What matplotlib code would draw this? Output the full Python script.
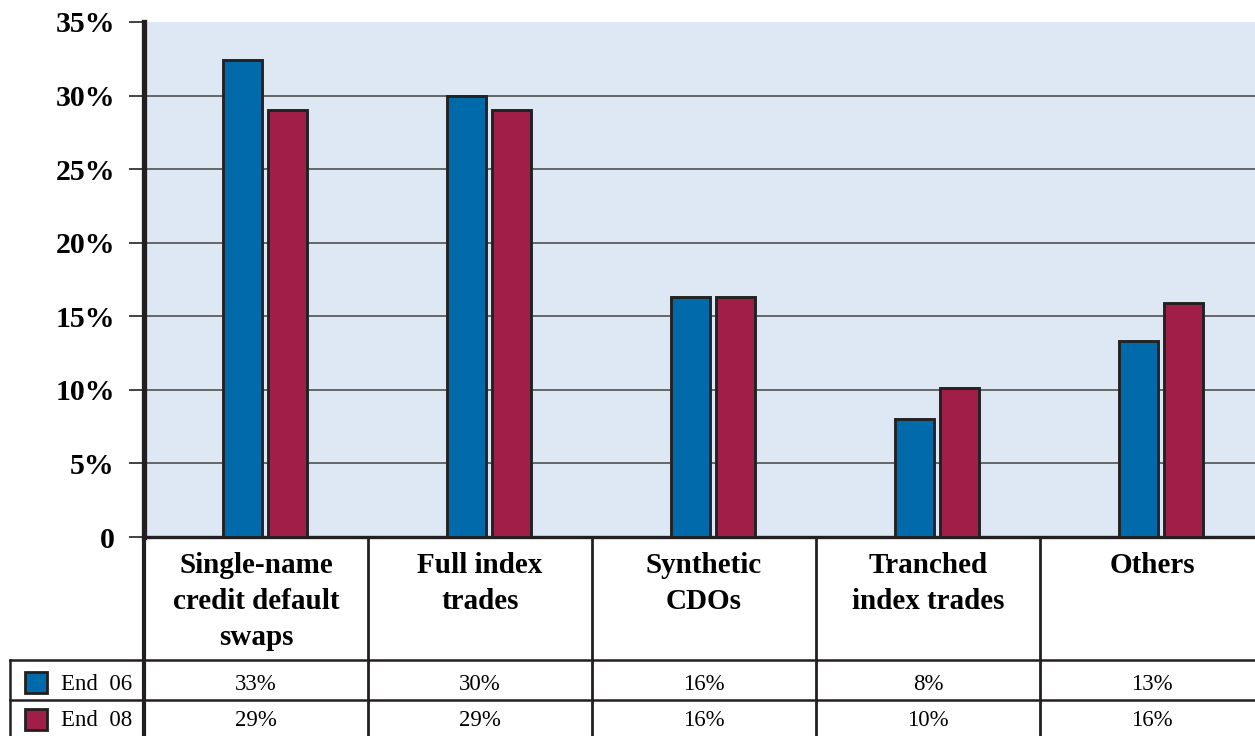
import matplotlib
matplotlib.use("Agg")
import matplotlib.pyplot as plt
import matplotlib.transforms as mtransforms
from matplotlib.patches import Rectangle
import numpy as np

categories = ["Single-name\ncredit default\nswaps", "Full index\ntrades",
              "Synthetic\nCDOs", "Tranched\nindex trades", "Others"]
series_names = ["End  06", "End  08"]
end06 = [32.4, 30.0, 16.3, 8.0, 13.3]
end08 = [29.0, 29.0, 16.3, 10.1, 15.9]
end06_labels = ["33%", "30%", "16%", "8%", "13%"]
end08_labels = ["29%", "29%", "16%", "10%", "16%"]
yticks = [0, 5, 10, 15, 20, 25, 30, 35]
ytick_labels = ["0", "5%", "10%", "15%", "20%", "25%", "30%", "35%"]

blue = "#006aaa"
red = "#a01e48"
bg = "#dde8f4"
edge = "#222222"
serif = ["Liberation Serif", "DejaVu Serif"]

W, H = 1255, 736
fig = plt.figure(figsize=(W / 100, H / 100), dpi=100)
left, right, top, bottom = 144, 1255, 22, 537
colw = 224.0
ax = fig.add_axes([left / W, (H - bottom) / H, (right - left) / W, (bottom - top) / H])
ax.set_facecolor(bg)
ax.set_xlim(0, (right - left) / colw)
ax.set_ylim(0, 35)

x = np.arange(len(categories)) + 0.54
bw = 0.174
off = 0.1
ax.bar(x - off, end06, width=bw, color=blue, edgecolor=edge, linewidth=2.1, zorder=3)
ax.bar(x + off, end08, width=bw, color=red, edgecolor=edge, linewidth=2.1, zorder=3)

ax.set_yticks(yticks)
ax.set_yticklabels(ytick_labels, fontfamily=serif, fontweight="bold", fontsize=21.5)
ax.set_xticks([])
for yv in yticks[1:-1]:
    ax.axhline(yv, color="#444444", linewidth=1.1, zorder=1)
ax.tick_params(axis="y", length=11, width=1.2, pad=10, color="#222222")
for s in ["top", "right"]:
    ax.spines[s].set_visible(False)
ax.spines["left"].set_linewidth(3.8)
ax.spines["left"].set_color("#231f20")
ax.spines["bottom"].set_linewidth(2.4)
ax.spines["bottom"].set_color("#231f20")

# table beneath the axes
trans = mtransforms.blended_transform_factory(ax.transData, ax.transAxes)
def ypx(p):
    return (bottom - p) / (bottom - top)
def xpx(p):
    return (p - left) / colw

y_row1, y_row2, y_end = ypx(660), ypx(700), ypx(736)
x_leg = xpx(10)

lc = "#231f20"
for i in range(1, 5):
    ax.plot([i, i], [0, y_end], transform=trans, color=lc, lw=2.0, clip_on=False)
ax.plot([0, 0], [0, y_end], transform=trans, color=lc, lw=3.0, clip_on=False)
for yy in (y_row1, y_row2):
    ax.plot([x_leg, 5], [yy, yy], transform=trans, color=lc, lw=1.8, clip_on=False)
ax.plot([x_leg, x_leg], [y_row1, y_end], transform=trans, color=lc, lw=1.8, clip_on=False)

for i, c in enumerate(categories):
    ax.text(i + 0.5, ypx(552), c, transform=trans, ha="center", va="top",
            fontfamily=serif, fontweight="bold", fontsize=21, linespacing=1.42)

row_y = [ypx(685), ypx(721)]
for labels, yy in zip([end06_labels, end08_labels], row_y):
    for i, t in enumerate(labels):
        ax.text(i + 0.5, yy, t, transform=trans, ha="center", va="center",
                fontfamily=serif, fontsize=16.5)

for name, col, yy, pt in zip(series_names, [blue, red], row_y, [672, 709]):
    ax.add_patch(Rectangle((xpx(25), ypx(pt + 21)), 22 / colw,
                           21 / (bottom - top), transform=trans, facecolor=col,
                           edgecolor=lc, lw=2, clip_on=False))
    ax.text(xpx(61), yy, name, transform=trans, ha="left", va="center",
            fontfamily=serif, fontsize=16.5)

fig.savefig("out.png", dpi=100)
